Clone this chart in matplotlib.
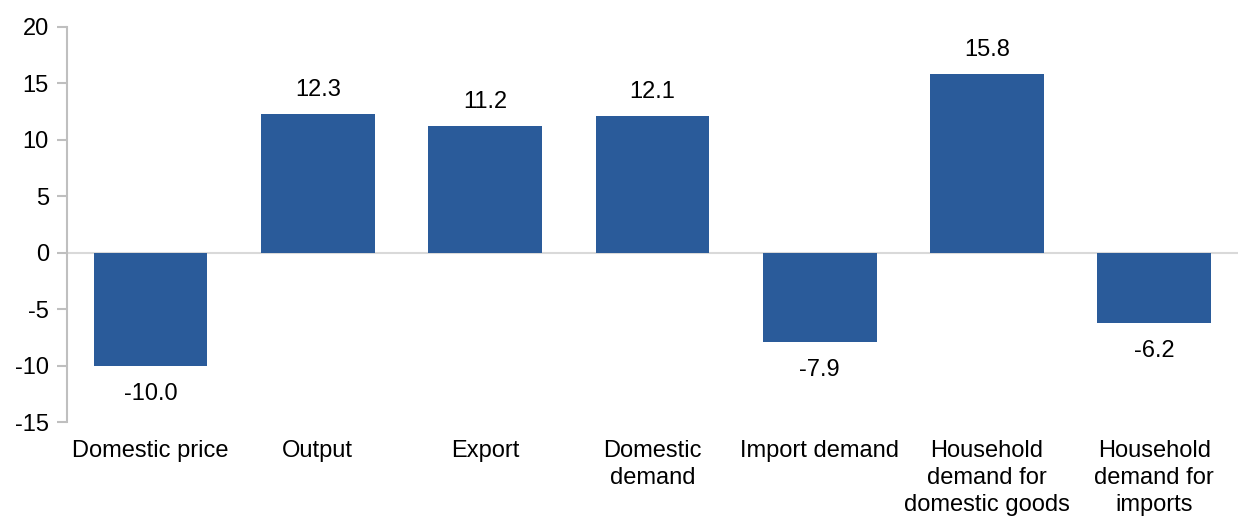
import numpy as np
import matplotlib
matplotlib.use("Agg")
import matplotlib.pyplot as plt

# percentage change by indicator
categories = ["Domestic price", "Output", "Export", "Domestic\ndemand",
              "Import demand", "Household\ndemand for\ndomestic goods",
              "Household\ndemand for\nimports"]
values = [-10.0, 12.3, 11.2, 12.1, -7.9, 15.8, -6.2]

plt.rcParams["font.family"] = ["Liberation Sans", "DejaVu Sans"]
plt.rcParams["font.size"] = 17
plt.rcParams["axes.unicode_minus"] = False

fig = plt.figure(figsize=(12.38, 5.16), dpi=100)
ax = fig.add_axes([0.054, 0.182, 0.946, 0.766])

x = np.arange(len(categories))
ax.bar(x, values, width=0.68, color="#2A5B9A", zorder=3)

# value labels above positive bars, below negative ones
for xi, v in zip(x, values):
    if v >= 0:
        ax.text(xi, v + 1.15, f"{v:.1f}", ha="center", va="bottom")
    else:
        ax.text(xi, v - 1.55, f"{v:.1f}", ha="center", va="top")

ax.axhline(0, color="#D9D9D9", linewidth=1.5, zorder=2)

ax.set_xlim(-0.5, len(categories) - 0.5)
ax.set_ylim(-15, 20)
ax.set_yticks(range(-15, 21, 5))
ax.set_xticks(x)
ax.set_xticklabels(categories, linespacing=1.3)
ax.tick_params(axis="x", length=0, pad=13)
ax.tick_params(axis="y", length=7, color="#BFBFBF", width=1.5, pad=6)

for side in ["top", "right", "bottom"]:
    ax.spines[side].set_visible(False)
ax.spines["left"].set_color("#BFBFBF")
ax.spines["left"].set_linewidth(1.5)

fig.savefig("out.png", dpi=100)
